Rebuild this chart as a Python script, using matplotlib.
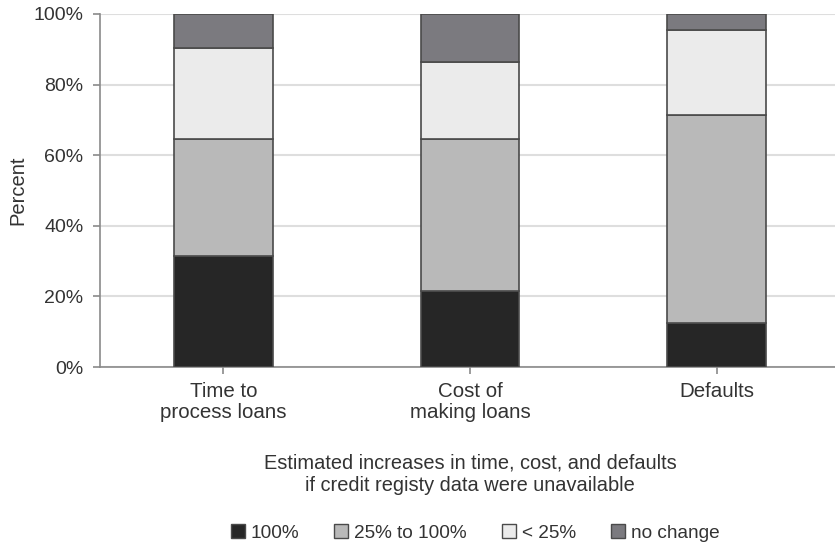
import matplotlib
matplotlib.use("Agg")
import matplotlib.pyplot as plt
from matplotlib.patches import Patch
import numpy as np

categories = ["Time to\nprocess loans", "Cost of\nmaking loans", "Defaults"]
series_names = ["100%", "25% to 100%", "< 25%", "no change"]
s_100 = [31.5, 21.5, 12.5]
s_25_100 = [33.0, 43.0, 59.0]
s_lt25 = [26.0, 22.0, 24.0]
s_nochange = [9.5, 13.5, 4.5]
yticks = [0, 20, 40, 60, 80, 100]
ytick_labels = ["0%", "20%", "40%", "60%", "80%", "100%"]

colors = ["#262626", "#b9b9b9", "#ebebeb", "#7b7a7f"]

plt.rcParams['font.family'] = ['Liberation Sans', 'DejaVu Sans']
fig = plt.figure(figsize=(8.35, 5.45), dpi=100)
ax = fig.add_axes([100/835, 1-367/545, 1-100/835, (367-14)/545])

x = np.arange(len(categories))
bottom = np.zeros(len(categories))
for vals, col, name in zip([s_100, s_25_100, s_lt25, s_nochange], colors, series_names):
    ax.bar(x, vals, width=0.4, bottom=bottom, color=col, edgecolor="#4a4a4a",
           linewidth=1.2, label=name, zorder=3)
    bottom += np.array(vals)

ax.set_xlim(-0.5, 2.48)
ax.set_ylim(0, 100)
ax.set_yticks(yticks)
ax.set_yticklabels(ytick_labels)
ax.set_xticks(x)
ax.set_xticklabels(categories, linespacing=1.12)
ax.yaxis.grid(True, color="#dedede", linewidth=1.5, zorder=0)
ax.set_axisbelow(True)
for s in ["top", "right"]:
    ax.spines[s].set_visible(False)
for s in ["left", "bottom"]:
    ax.spines[s].set_color("#8a8a8a")
    ax.spines[s].set_linewidth(1.2)
ax.tick_params(axis="both", colors="#8a8a8a", labelcolor="#333333",
               length=5, width=1.2)
ax.tick_params(axis="y", pad=7, labelsize=14)
ax.tick_params(axis="x", pad=6, labelsize=14.8)

fig.text(18/835, 1-190.5/545, "Percent", rotation=90, ha="center", va="center",
         fontsize=14.5, color="#333333")

fig.text(470/835, 1-474/545, "Estimated increases in time, cost, and defaults\nif credit registy data were unavailable",
         ha="center", va="center", fontsize=14.4, color="#333333", linespacing=1.25)

handles = [Patch(facecolor=c, edgecolor="#4a4a4a", linewidth=1.0) for c in colors]
fig.legend(handles, series_names, loc="center", bbox_to_anchor=(475/835, 1-533/545),
           ncol=4, frameon=False, fontsize=13.7, handlelength=0.74, handleheight=0.74,
           handletextpad=0.3, columnspacing=1.85, labelcolor="#333333",
           borderpad=0.1)

fig.savefig("out.png", dpi=100)
